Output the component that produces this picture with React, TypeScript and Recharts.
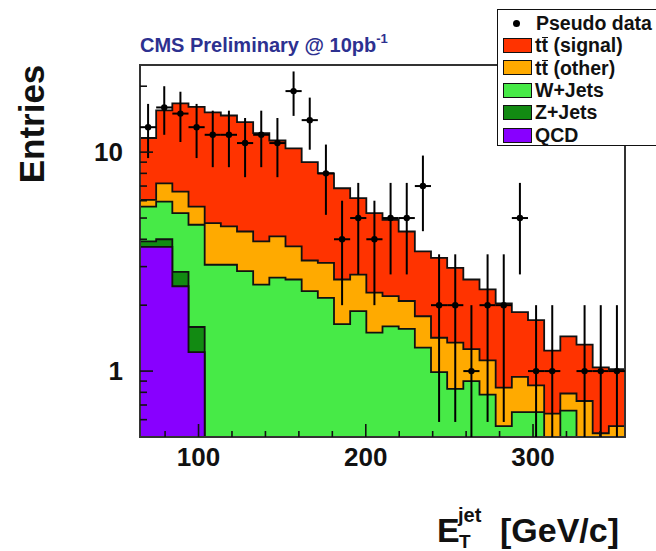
import React from 'react';
import { ComposedChart, Area, Scatter, XAxis, YAxis, ErrorBar, ReferenceArea, Label } from 'recharts';

// ---- binning (30 bins from 65 to 355 GeV) ----
const X_MIN = 65;
const X_MAX = 355;
const N_BINS = 30;
const BIN_W = (X_MAX - X_MIN) / N_BINS;

// ---- per-process contributions (stacked) ----
const qcd = [3.69, 3.69, 2.44, 1.22, 0, 0, 0, 0, 0, 0, 0, 0, 0, 0, 0, 0, 0, 0, 0, 0, 0, 0, 0, 0, 0, 0, 0, 0, 0, 0];
const zJets = [0.22, 0.31, 0.40, 0.37, 0, 0, 0, 0, 0, 0, 0, 0, 0, 0, 0, 0, 0, 0, 0, 0, 0, 0, 0, 0, 0, 0, 0, 0, 0, 0];
const wJets = [1.73, 1.94, 2.42, 3.07, 3.06, 3.06, 2.86, 2.48, 2.67, 2.62, 2.32, 2.16, 1.64, 1.88, 1.50, 1.60, 1.56, 1.28, 0.99, 0.83, 0.90, 0.78, 0.56, 0.65, 0.65, 0.40, 0.66, 0.40, 0.30, 0.35];
const ttOther = [0.41, 1.26, 1.34, 0.98, 1.68, 1.52, 1.48, 1.43, 1.45, 1.09, 0.88, 0.96, 0.98, 0.88, 0.78, 0.60, 0.53, 0.50, 0.43, 0.52, 0.36, 0.34, 0.28, 0.29, 0.21, 0.24, 0.13, 0.33, 0.22, 0.21];
const ttSignal = [5.55, 8.30, 10.10, 10.46, 10.46, 10.12, 9.36, 8.29, 7.18, 6.69, 5.80, 4.88, 4.22, 3.40, 2.98, 2.71, 2.25, 1.74, 1.87, 1.61, 1.36, 1.24, 1.20, 0.92, 0.85, 0.60, 0.65, 0.59, 0.52, 0.46];

// ---- pseudo data counts per bin ----
const pseudoData = [13, 16, 15, 13, 12, 12, 11, 12, 11, 19, 14, 8, 4, 5, 4, 5, 5, 7, 2, 2, 1, 2, 2, 5, 1, 1, 0, 1, 1, 1];

// ---- ticks ----
const xTicks = [80, 100, 120, 140, 160, 180, 200, 220, 240, 260, 280, 300, 320, 340];
const xTickLabels = [100, 200, 300];
const yTicks = [0.6, 0.7, 0.8, 0.9, 1, 2, 3, 4, 5, 6, 7, 8, 9, 10, 20];
const yTickLabels = [1, 10];
const Y_DOMAIN: [number, number] = [0.5, 25];

// ---- legend ----
const legendItems = [
  { key: 'signal', label: 'signal', tt: true, color: '#ff3300' },
  { key: 'other', label: 'other', tt: true, color: '#ffaa00' },
  { key: 'w', label: 'W+Jets', tt: false, color: '#47ea47' },
  { key: 'z', label: 'Z+Jets', tt: false, color: '#128a12' },
  { key: 'qcd', label: 'QCD', tt: false, color: '#8800ff' },
];

const FONT = '"Liberation Sans", Arial, Helvetica, sans-serif';
const FLOOR = 0.02;

// cumulative stack table at bin edges (for step areas)
const histRows = Array.from({ length: N_BINS + 1 }, (_, i) => {
  const b = Math.min(i, N_BINS - 1);
  const q = qcd[b];
  const z = q + zJets[b];
  const w = z + wJets[b];
  const o = w + ttOther[b];
  const s = o + ttSignal[b];
  return {
    x: X_MIN + i * BIN_W,
    qcd: Math.max(q, FLOOR),
    z: Math.max(z, FLOOR),
    w: Math.max(w, FLOOR),
    other: Math.max(o, FLOOR),
    signal: Math.max(s, FLOOR),
  };
});

const dataPoints = pseudoData
  .map((n, i) => ({
    x: X_MIN + (i + 0.5) * BIN_W,
    y: n,
    ey: [n - Math.max(n - Math.sqrt(n), Y_DOMAIN[0]), Math.sqrt(n)],
    ex: BIN_W / 2,
  }))
  .filter((d) => d.y > 0);

const Y_TICK_MARGIN = 17;
const X_TICK_MARGIN = 10;

function YTick(props: any) {
  const { x, y, payload } = props;
  const v = payload.value;
  const major = yTickLabels.includes(v);
  const ax = x + Y_TICK_MARGIN;
  return (
    <g>
      <line x1={ax} x2={ax + (major ? 13 : 7)} y1={y} y2={y} stroke="#111" strokeWidth={1.6} />
      {major && (
        <text x={x} y={y} dy="0.36em" textAnchor="end" fontSize={26} fontWeight="bold" fontFamily={FONT} fill="#111">
          {v}
        </text>
      )}
    </g>
  );
}

function XTick(props: any) {
  const { x, y, payload } = props;
  const v = payload.value;
  const major = xTickLabels.includes(v);
  const ay = y - X_TICK_MARGIN;
  return (
    <g>
      <line x1={x} x2={x} y1={ay} y2={ay - (major ? 13 : 6)} stroke="#111" strokeWidth={1.6} />
      {major && (
        <text x={x} y={y} dy="0.72em" textAnchor="middle" fontSize={26} fontWeight="bold" fontFamily={FONT} fill="#111">
          {v}
        </text>
      )}
    </g>
  );
}

function YTitle(props: any) {
  const vb = props.viewBox || { x: 0, y: 0 };
  const cx = vb.x + 31;
  const cy = vb.y + 59;
  return (
    <text x={cx} y={cy} transform={`rotate(-90, ${cx}, ${cy})`} textAnchor="middle" dy="0.36em" fontSize={35} fontWeight="bold" fontFamily={FONT} fill="#111">
      Entries
    </text>
  );
}

function XTitle(props: any) {
  const vb = props.viewBox || { x: 0, y: 0, width: 0 };
  const x0 = vb.x + vb.width - 188;
  const base = vb.y + 105;
  return (
    <g fontFamily={FONT} fontWeight="bold" fill="#111">
      <text x={x0} y={base} fontSize={34}>E</text>
      <text x={x0 + 22} y={base + 6} fontSize={19}>T</text>
      <text x={x0 + 21} y={base - 20} fontSize={20}>jet</text>
      <text x={x0 + 63} y={base} fontSize={34}>[GeV/c]</text>
    </g>
  );
}

const stroke = '#111';
const SW = 1.8;

function TTbar() {
  return (
    <span>
      t
      <span style={{ position: 'relative', display: 'inline-block' }}>
        t
        <span style={{ position: 'absolute', left: 0, right: 0, top: 3, borderTop: '1.6px solid #111' }} />
      </span>
    </span>
  );
}

export default function App() {
  return (
    <div style={{ position: 'absolute', left: 0, top: 0, width: 656, height: 551, overflow: 'hidden', background: '#fff' }}>
      <ComposedChart
        width={656}
        height={551}
        data={histRows}
        margin={{ top: 65, right: 31, bottom: 54, left: 0 }}
      >
        <Area type="stepAfter" dataKey="signal" stroke={stroke} strokeWidth={SW} fill="#ff3300" fillOpacity={1} isAnimationActive={false} dot={false} activeDot={false} />
        <Area type="stepAfter" dataKey="other" stroke={stroke} strokeWidth={SW} fill="#ffaa00" fillOpacity={1} isAnimationActive={false} dot={false} activeDot={false} />
        <Area type="stepAfter" dataKey="w" stroke={stroke} strokeWidth={SW} fill="#47ea47" fillOpacity={1} isAnimationActive={false} dot={false} activeDot={false} />
        <Area type="stepAfter" dataKey="z" stroke={stroke} strokeWidth={SW} fill="#128a12" fillOpacity={1} isAnimationActive={false} dot={false} activeDot={false} />
        <Area type="stepAfter" dataKey="qcd" stroke={stroke} strokeWidth={SW} fill="#8800ff" fillOpacity={1} isAnimationActive={false} dot={false} activeDot={false} />
        <Scatter
          data={dataPoints}
          dataKey="y"
          isAnimationActive={false}
          shape={(p: any) => <circle cx={p.cx} cy={p.cy} r={3.2} fill="#000" />}
        >
          <ErrorBar dataKey="ey" direction="y" width={0} stroke="#000" strokeWidth={2} isAnimationActive={false} />
          <ErrorBar dataKey="ex" direction="x" width={0} stroke="#000" strokeWidth={2} isAnimationActive={false} />
        </Scatter>
        <XAxis
          dataKey="x"
          type="number"
          domain={[X_MIN, X_MAX]}
          allowDataOverflow
          ticks={xTicks}
          interval={0}
          tickSize={0}
          tickMargin={X_TICK_MARGIN}
          tickLine={false}
          axisLine={false}
          height={60}
          tick={(p: any) => <XTick {...p} />}
        >
          <Label content={(p: any) => <XTitle {...p} />} />
        </XAxis>
        <YAxis
          type="number"
          scale="log"
          domain={Y_DOMAIN}
          allowDataOverflow
          ticks={yTicks}
          interval={0}
          tickSize={0}
          tickMargin={Y_TICK_MARGIN}
          tickLine={false}
          axisLine={false}
          width={140}
          tick={(p: any) => <YTick {...p} />}
        >
          <Label content={(p: any) => <YTitle {...p} />} />
        </YAxis>
        <ReferenceArea x1={X_MIN} x2={X_MAX} y1={Y_DOMAIN[0]} y2={Y_DOMAIN[1]} fill="none" fillOpacity={0} stroke="#333" strokeWidth={2} ifOverflow="visible" />
      </ComposedChart>

      <div
        style={{
          position: 'absolute',
          left: 140,
          top: 35,
          fontFamily: FONT,
          fontWeight: 'bold',
          fontSize: 20,
          lineHeight: '20px',
          color: '#2d3190',
          whiteSpace: 'nowrap',
        }}
      >
        CMS Preliminary @ 10pb<sup style={{ fontSize: 13, verticalAlign: 'top', position: 'relative', top: -6 }}>-1</sup>
      </div>

      <div
        style={{
          position: 'absolute',
          left: 497,
          top: 9,
          width: 175,
          height: 137,
          border: '1.5px solid #111',
          background: '#fff',
          fontFamily: FONT,
          fontWeight: 'bold',
          fontSize: 19.5,
          color: '#111',
          boxSizing: 'border-box',
        }}
      >
        <div style={{ position: 'absolute', left: 0, top: 2, height: 22.4, display: 'flex', alignItems: 'center', whiteSpace: 'nowrap' }}>
          <span style={{ display: 'inline-block', width: 7, height: 7, borderRadius: 4, background: '#000', marginLeft: 15, marginRight: 16 }} />
          Pseudo data
        </div>
        {legendItems.map((it, i) => (
          <div
            key={it.key}
            style={{ position: 'absolute', left: 0, top: 2 + (i + 1) * 22.4, height: 22.4, display: 'flex', alignItems: 'center', whiteSpace: 'nowrap' }}
          >
            <span style={{ display: 'inline-block', width: 29, height: 15, boxSizing: 'border-box', border: '1.5px solid #111', background: it.color, marginLeft: 5, marginRight: 3 }} />
            {it.tt ? (
              <span>
                <TTbar /> ({it.label})
              </span>
            ) : (
              it.label
            )}
          </div>
        ))}
      </div>
    </div>
  );
}
